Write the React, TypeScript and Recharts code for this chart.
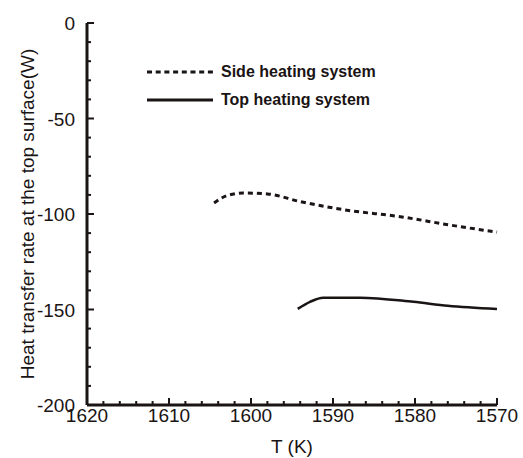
import { LineChart, Line, XAxis, YAxis } from 'recharts';

// temperature (K) and heat transfer rate (W) at the top surface
const sideTemps = [1604.5, 1603, 1601, 1598, 1594, 1588.3, 1581.8, 1575.7, 1570];
const sideRates = [-94.2, -90.5, -89, -89.5, -93.5, -98, -101.4, -105.8, -109.5];
const topTemps = [1594.3, 1592.8, 1591.2, 1586.7, 1580.2, 1576, 1570];
const topRates = [-149.7, -146, -143.8, -143.8, -146, -148, -149.7];

const xTicks = Array.from({ length: 26 }, (_, i) => 1570 + i * 2);
const yTicks = Array.from({ length: 21 }, (_, i) => -200 + i * 10);

const sideData = sideTemps.map((t, i) => ({ t, q: sideRates[i] }));
const topData = topTemps.map((t, i) => ({ t, q: topRates[i] }));

const FONT = '"Liberation Sans", Arial, sans-serif';
const INK = '#1a1414';

const XTick = ({ x, y, payload }: any) => {
  const major = payload.value % 10 === 0;
  return (
    <g>
      <line x1={x} x2={x} y1={y} y2={y - (major ? 7 : 4)} stroke={INK} strokeWidth={2} />
      {major && (
        <text x={x} y={y + 17} textAnchor="middle" fontSize={19} fontFamily={FONT} fill={INK}>
          {payload.value}
        </text>
      )}
    </g>
  );
};

const YTick = ({ x, y, payload }: any) => {
  const major = payload.value % 50 === 0;
  return (
    <g>
      <line x1={x} x2={x + (major ? 7 : 4)} y1={y} y2={y} stroke={INK} strokeWidth={2} />
      {major && (
        <text x={x - 12} y={y + 7} textAnchor="end" fontSize={19} fontFamily={FONT} fill={INK}>
          {payload.value}
        </text>
      )}
    </g>
  );
};

const legendItems = [
  { label: 'Side heating system', dash: '5 3.7' },
  { label: 'Top heating system', dash: undefined },
];

const LegendBox = () => (
  <div
    style={{
      position: 'absolute',
      left: 147,
      top: 58,
      fontFamily: FONT,
      fontWeight: 'bold',
      fontSize: 16,
      color: INK,
    }}
  >
    {legendItems.map((it) => (
      <div key={it.label} style={{ display: 'flex', alignItems: 'center', height: 28 }}>
        <svg width={66} height={6} style={{ marginRight: 8 }}>
          <line x1={0} x2={66} y1={3} y2={3} stroke={INK} strokeWidth={3} strokeDasharray={it.dash} />
        </svg>
        <span>{it.label}</span>
      </div>
    ))}
  </div>
);

export default function App() {
  return (
    <div style={{ position: 'absolute', left: 0, top: 0, width: 523, height: 458, background: '#fff' }}>
      <LineChart width={523} height={458} margin={{ top: 23, right: 26, bottom: 0, left: 0 }}>
        <XAxis
          dataKey="t"
          type="number"
          domain={[1570, 1620]}
          reversed
          ticks={xTicks}
          interval={0}
          tickSize={0}
          tickMargin={0}
          tickLine={false}
          tick={<XTick />}
          height={53}
          axisLine={{ stroke: INK, strokeWidth: 3 }}
          allowDuplicatedCategory={false}
          label={({ viewBox }: any) => (
            <text
              x={viewBox.x + viewBox.width / 2}
              y={viewBox.y + 48}
              textAnchor="middle"
              fontSize={19}
              fontFamily={FONT}
              fill={INK}
            >
              T (K)
            </text>
          )}
        />
        <YAxis
          type="number"
          domain={[-200, 0]}
          ticks={yTicks}
          interval={0}
          tickSize={0}
          tickMargin={0}
          tickLine={false}
          tick={<YTick />}
          width={87}
          axisLine={{ stroke: INK, strokeWidth: 3 }}
          label={({ viewBox }: any) => {
            const cx = 27;
            const cy = viewBox.y + viewBox.height / 2;
            return (
              <text
                x={cx}
                y={cy}
                transform={`rotate(-90 ${cx} ${cy})`}
                textAnchor="middle"
                dominantBaseline="central"
                fontSize={19}
                fontFamily={FONT}
                fill={INK}
              >
                Heat transfer rate at the top surface(W)
              </text>
            );
          }}
        />
        <Line
          data={sideData}
          dataKey="q"
          type="monotone"
          stroke={INK}
          strokeWidth={3}
          strokeDasharray="5 4"
          dot={false}
          isAnimationActive={false}
        />
        <Line
          data={topData}
          dataKey="q"
          type="monotone"
          stroke={INK}
          strokeWidth={2.5}
          dot={false}
          isAnimationActive={false}
        />
      </LineChart>
      <LegendBox />
    </div>
  );
}
